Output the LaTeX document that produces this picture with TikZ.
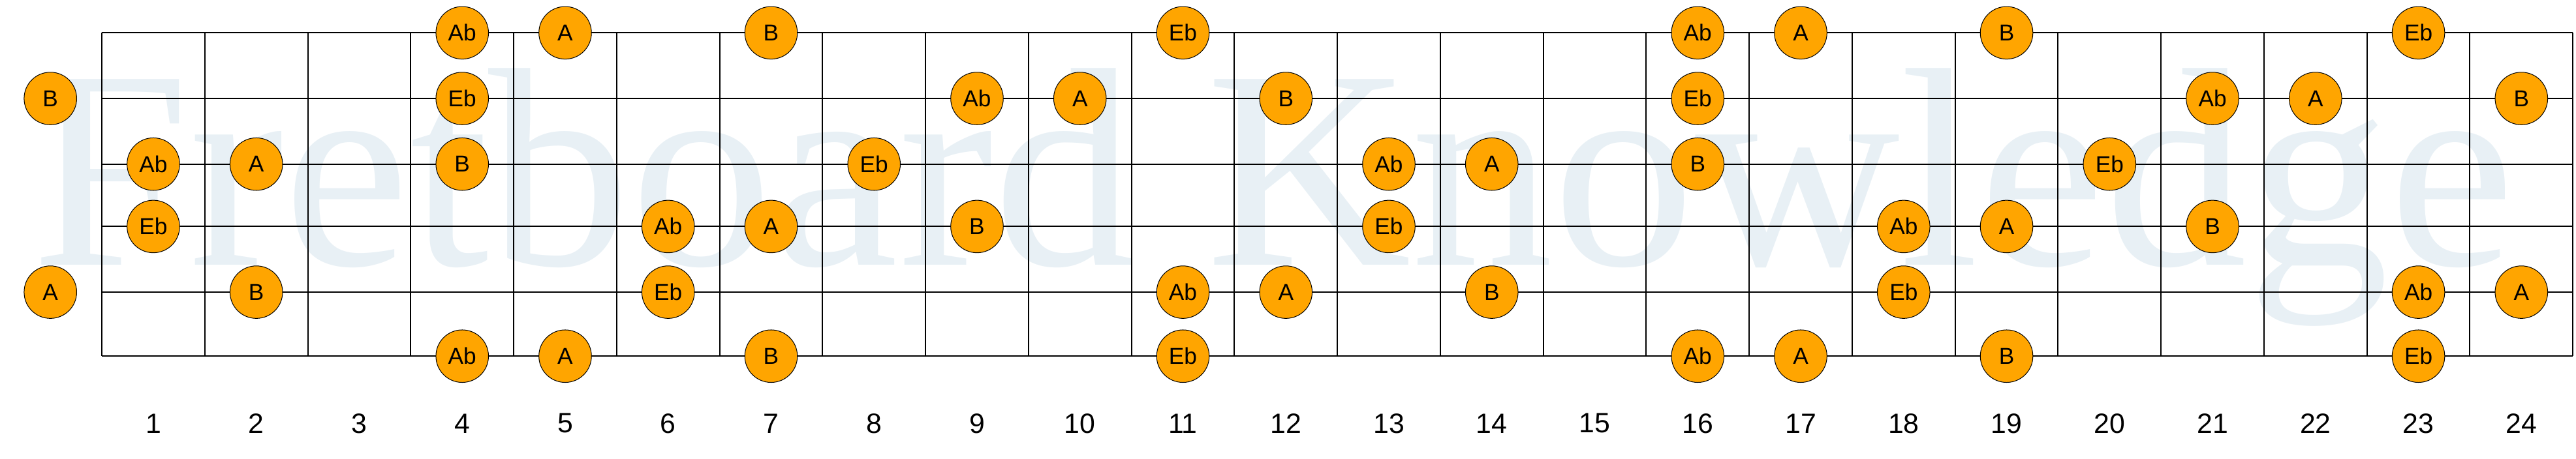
\documentclass[tikz,border=0pt]{standalone}
\usepackage{fontspec}
\setmainfont{Liberation Sans}
\newfontfamily\wmfont{Liberation Serif}
\usepackage{graphicx}
\begin{document}
\begin{tikzpicture}[x=1pt,y=-1pt,
  note/.style={circle,draw=black,fill=orange,minimum size=32pt,inner sep=0pt,font=\fontsize{14}{14}\selectfont},
  fretnum/.style={font=\fontsize{17}{17}\selectfont}]
\useasboundingbox (0,0) rectangle (1568,279.3);
\definecolor{orange}{HTML}{FFA500}
\definecolor{wm}{HTML}{E8F0F5}
\node[text=wm,anchor=center,inner sep=0pt] (wmk) at (775,120) {\resizebox{1510pt}{!}{\wmfont Fretboard Knowledge}};
\def\fx#1{62+62.67*#1}
\foreach \s/\y in {1/20,2/60,3/100,4/138,5/178,6/217}
  \draw[line width=0.8pt] (62,\y) -- (1566,\y);
\foreach \f in {0,...,24}
  \draw[line width=0.8pt] ({\fx{\f}},20) -- ({\fx{\f}},217);
\foreach \f in {1,...,24}
  \node[fretnum] (n\f) at ({62+62.67*(\f-0.5)},258) {\f};
\foreach \y/\list in {20/{4/Ab,5/A,7/B,11/Eb,16/Ab,17/A,19/B,23/Eb},
  60/{0/B,4/Eb,9/Ab,10/A,12/B,16/Eb,21/Ab,22/A,24/B},
  100/{1/Ab,2/A,4/B,8/Eb,13/Ab,14/A,16/B,20/Eb},
  138/{1/Eb,6/Ab,7/A,9/B,13/Eb,18/Ab,19/A,21/B},
  178/{0/A,2/B,6/Eb,11/Ab,12/A,14/B,18/Eb,23/Ab,24/A},
  217/{4/Ab,5/A,7/B,11/Eb,16/Ab,17/A,19/B,23/Eb}}
  \foreach \f/\t in \list
    \node[note] (s\y f\f) at ({62+62.67*(\f-0.5)},\y) {\t};
\end{tikzpicture}
\end{document}
